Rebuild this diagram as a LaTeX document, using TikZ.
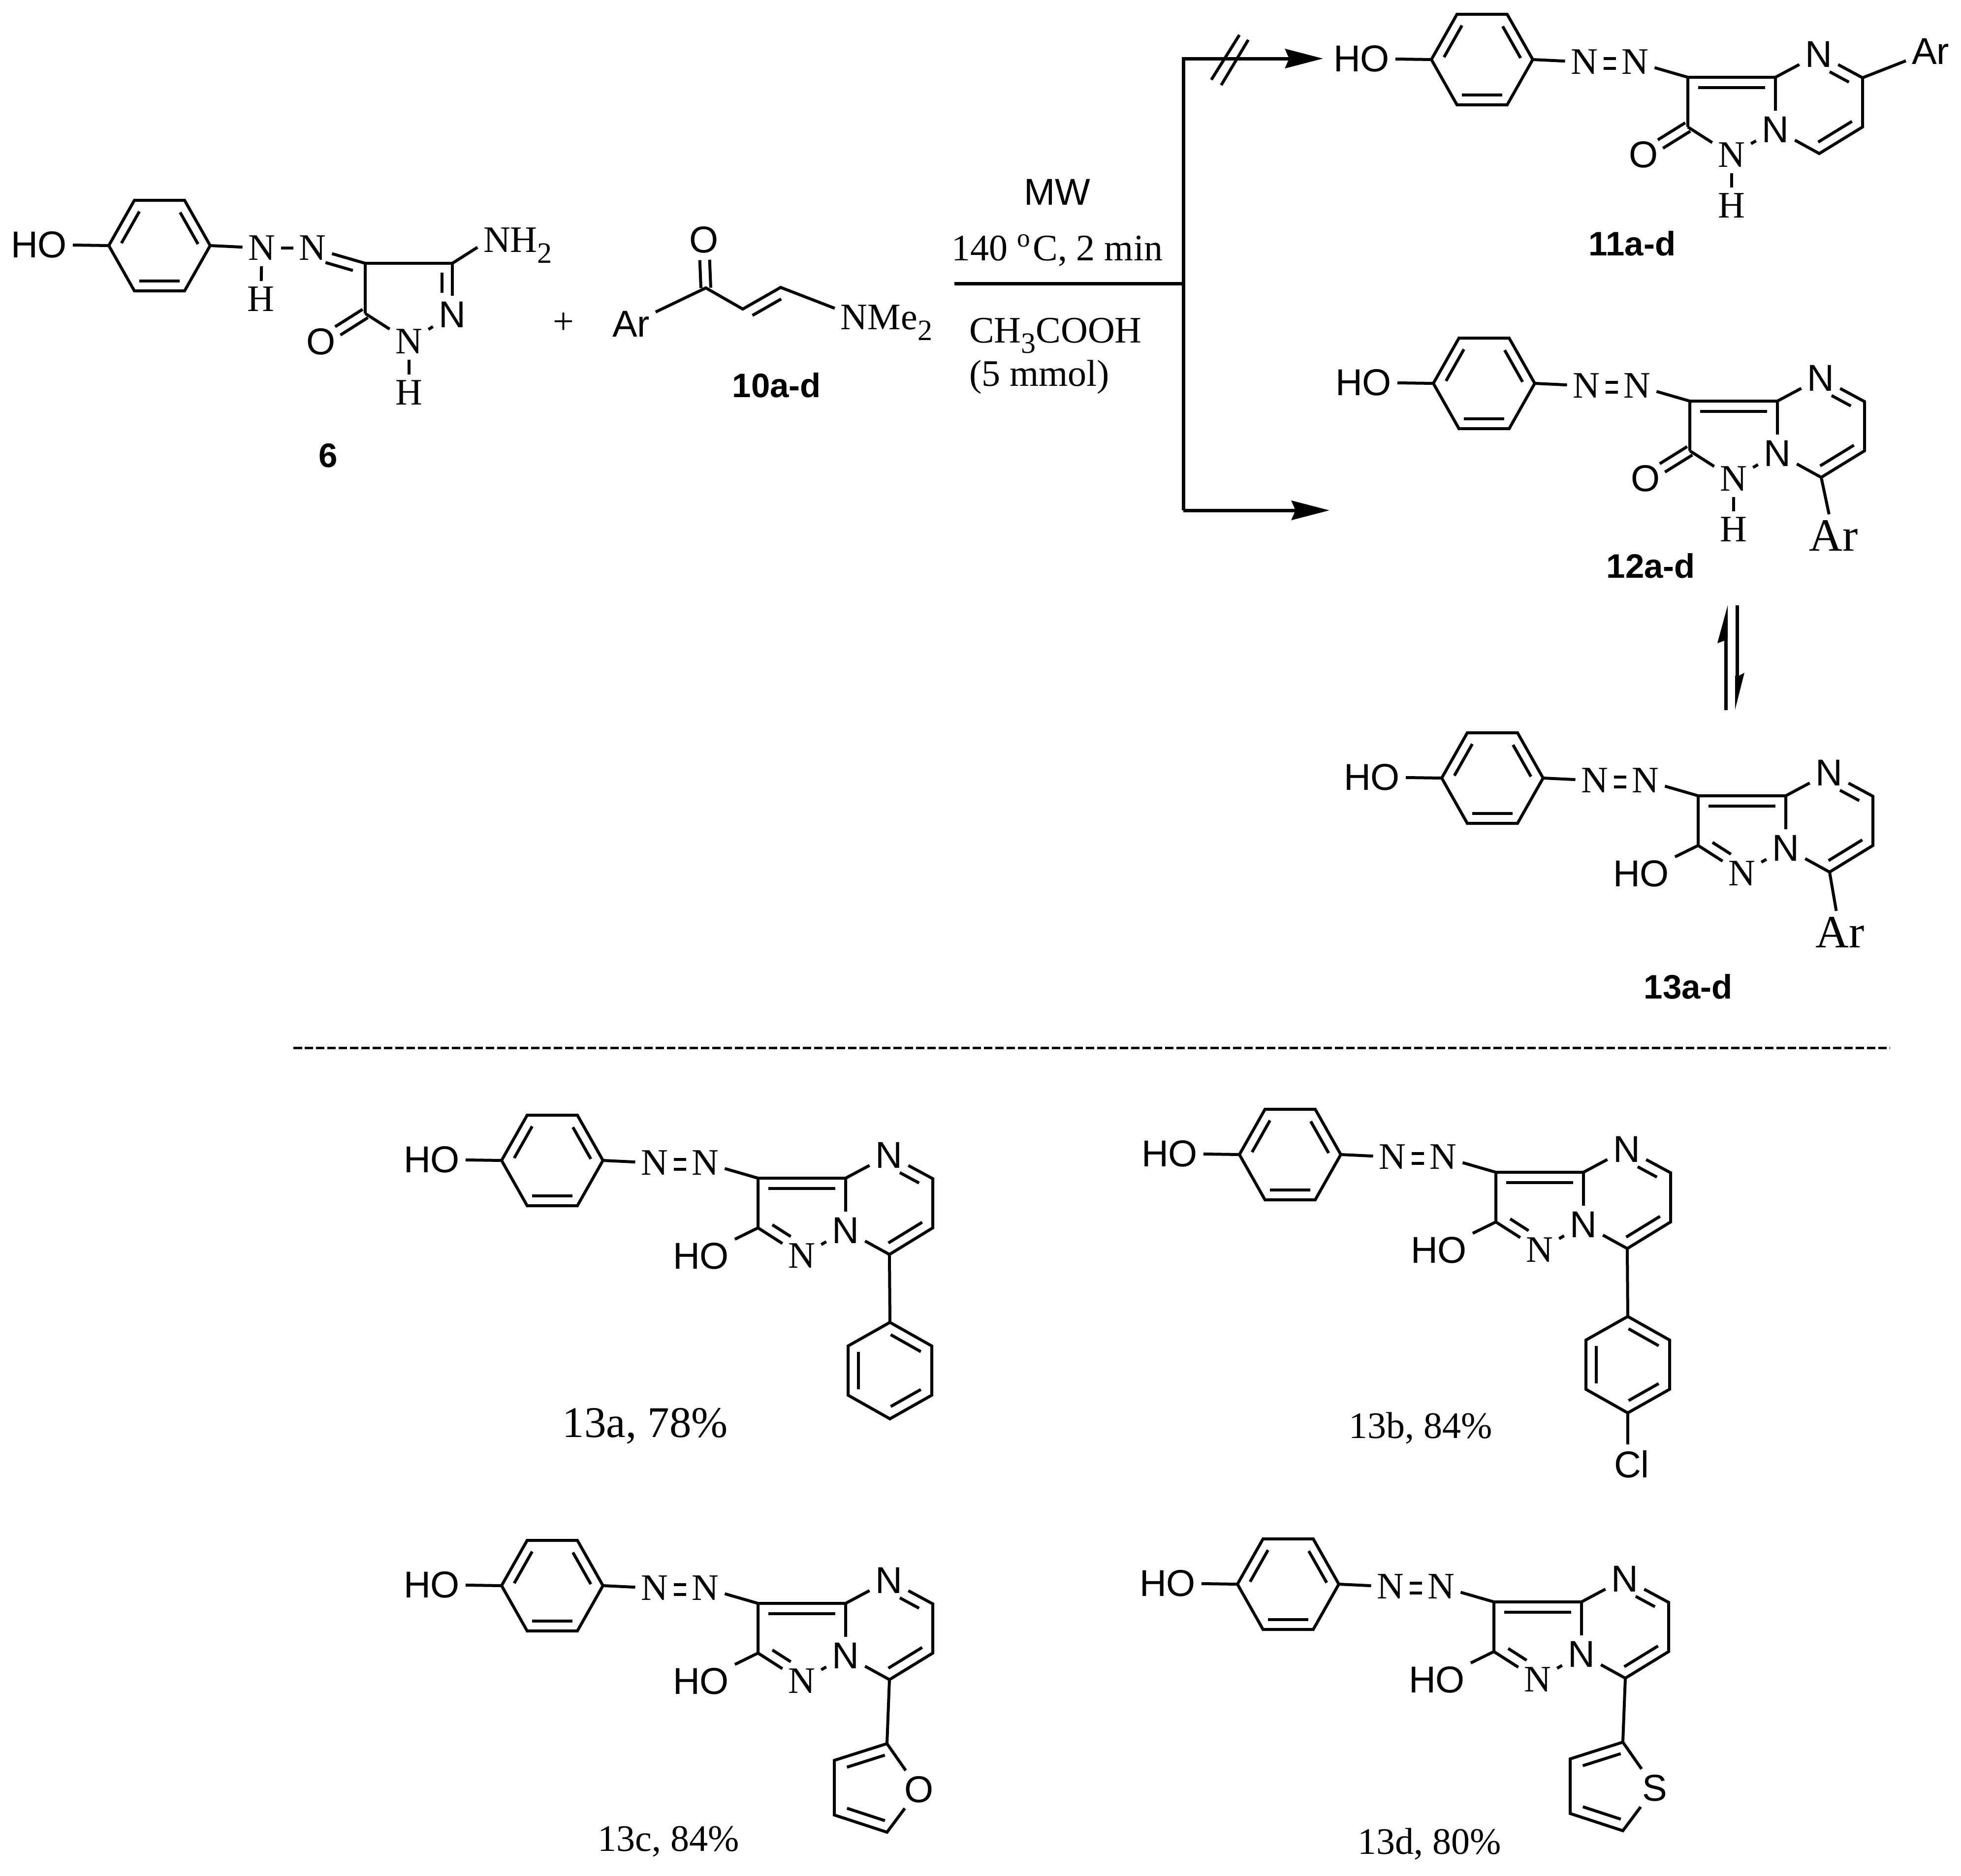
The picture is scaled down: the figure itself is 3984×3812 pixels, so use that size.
\documentclass[tikz,border=0pt]{standalone}
\usepackage{fontspec}
\setmainfont{Liberation Serif}
\setsansfont{Liberation Sans}
\usetikzlibrary{calc,arrows.meta}
\newcommand{\afont}{\fontsize{7.6}{9}\selectfont}
\newcommand{\sbs}[1]{\raisebox{-.28em}{\fontsize{6}{7}\selectfont #1}}
\tikzset{
  bond/.style={line width=.6pt},
  rxn/.style={line width=.7pt},
  atomr/.style={inner sep=1pt,text depth=0pt,font=\afont\rmfamily},
  atoms/.style={inner sep=1pt,text depth=0pt,font=\afont\sffamily},
  arbig/.style={inner sep=1pt,text depth=0pt,font=\fontsize{9.4}{11}\selectfont\rmfamily},
  cmpd/.style={inner sep=0pt,font=\fontsize{6.9}{8}\selectfont\sffamily\bfseries},
  capt/.style={inner sep=0pt,font=\afont\rmfamily},
  head/.style={-{Stealth[length=7.7pt,width=3.9pt,inset=.8pt]}},
}
% inner line of a double bond: left of #1->#2, offset #3, trimmed by #4 and #5
\newcommand{\dbl}[5]{\draw[bond] ($(#1)!#4!(#2)!#3!90:(#2)$) -- ($(#2)!#5!(#1)!-#3!90:(#1)$);}
% phenol ring with OH and the two azo nitrogens
\newcommand{\phenolring}{%
  \coordinate (bl) at (-521,-36);
  \coordinate (tl) at (-469,-128);
  \coordinate (tr) at (-367,-128);
  \coordinate (br) at (-315,-36);
  \coordinate (dr) at (-367,56);
  \coordinate (dl) at (-469,56);
  \node[atoms] (ho) at (-663,-38) {HO};
  \node[atomr] (nl) at (-210,-31) {N};
  \node[atomr] (nr) at (-107,-31) {N};
  \draw[bond] (bl)--(tl)--(tr)--(br)--(dr)--(dl)--cycle;
  \dbl{tl}{bl}{2pt}{.14}{.16}
  \dbl{br}{tr}{2pt}{.14}{.16}
  \dbl{dl}{dr}{2pt}{.1}{.1}
  \draw[bond] (ho)--(bl);
  \draw[bond] (br)--(nl);
}
% azo group and fused bicycle
\newcommand{\bicyc}{%
  \phenolring
  \draw[bond] ([yshift=.7pt]nl.east)--([yshift=.7pt]nr.west);
  \draw[bond] ([yshift=-1.3pt]nl.east)--([yshift=-1.3pt]nr.west);
  \coordinate (c3) at (0,0);
  \coordinate (c3a) at (178,0);
  \coordinate (c2) at (0,101);
  \coordinate (c5) at (355,1);
  \coordinate (c6) at (355,101);
  \coordinate (c7) at (267,155);
  \node[atoms] (n4) at (266,-47) {N};
  \node[atoms] (n7a) at (178,106) {N};
  \node[atomr] (n1) at (89,158) {N};
  \draw[bond] (nr)--(c3);
  \draw[bond] (c2)--(c3)--(c3a)--(n4);
  \draw[bond] (n4)--(c5)--(c6)--(c7)--(n7a)--(c3a);
  \draw[bond] (n7a)--(n1);
  \draw[bond] (c2)--(n1);
  \dbl{c3a}{c3}{2.1pt}{.12}{.12}
  \dbl{c5}{n4}{2.1pt}{.2}{.36}
  \dbl{c7}{c6}{2.1pt}{.1}{.12}
}
\newcommand{\enolend}{%
  \node[atoms] (oh) at (-116,158) {HO};
  \draw[bond] (c2)--(oh);
  \dbl{c2}{n1}{2.1pt}{.2}{.38}
}
\newcommand{\ketoend}{%
  \node[atoms] (oo) at (-90,157) {O};
  \node[atomr] (hh) at (89,261) {H};
  \dbl{c2}{oo}{1pt}{0}{.38}
  \dbl{c2}{oo}{-1pt}{0}{.38}
  \draw[bond] (n1)--(hh);
}
\newcommand{\phenylend}{%
  \coordinate (p1) at (268,293);
  \coordinate (p2) at (353,341);
  \coordinate (p3) at (353,441);
  \coordinate (p4) at (268,489);
  \coordinate (p5) at (183,441);
  \coordinate (p6) at (183,341);
  \draw[bond] (c7)--(p1);
  \draw[bond] (p1)--(p2)--(p3)--(p4)--(p5)--(p6)--cycle;
  \dbl{p2}{p1}{2.1pt}{.14}{.14}
  \dbl{p4}{p3}{2.1pt}{.14}{.14}
  \dbl{p6}{p5}{2.1pt}{.12}{.12}
}
% five-membered heteroaryl; #1 = heteroatom
\newcommand{\hetend}[1]{%
  \coordinate (f1) at (262,285);
  \coordinate (f2) at (155,319);
  \coordinate (f3) at (155,430);
  \coordinate (f4) at (262,465);
  \node[atoms] (fx) at (327,378) {#1};
  \draw[bond] (c7)--(f1);
  \draw[bond] (fx)--(f1)--(f2)--(f3)--(f4)--(fx);
  \dbl{f1}{f2}{2.1pt}{.1}{.18}
  \dbl{f3}{f4}{2.1pt}{.18}{.1}
}
\begin{document}
\begin{tikzpicture}[x=.1pt,y=-.1pt]
\useasboundingbox (0,0) rectangle (3984,3812);
\fill[white] (0,0) rectangle (3984,3812);

% compound 6
\begin{scope}[shift={(742,535)},name prefix=six-]
  \phenolring
  \coordinate (c4) at (0,0);
  \coordinate (c3) at (177,0);
  \coordinate (c5) at (0,102);
  \node[atomr] (h1) at (-212,73) {H};
  \node[atomr] (n1) at (89,159) {N};
  \node[atoms] (n2) at (177,104) {N};
  \node[atoms] (oo) at (-90,159) {O};
  \node[atomr] (h2) at (89,263) {H};
  \node[atomr] (nh) at (310,-47) {NH\sbs{2}};
  \draw[bond] (nl)--(nr);
  \draw[bond] (nl)--(h1);
  \draw[bond] (nr)--(c4);
  \draw[bond] (c5)--(c4)--(c3)--(n2);
  \draw[bond] (c5)--(n1);
  \draw[bond] (n1)--(n2);
  \draw[bond] (n1)--(h2);
  \draw[bond] (c3)--(nh.190);
  \dbl{c4}{nr}{2.1pt}{.18}{.3}
  \dbl{n2}{c3}{2.1pt}{.42}{.18}
  \dbl{c5}{oo}{1pt}{0}{.38}
  \dbl{c5}{oo}{-1pt}{0}{.38}
\end{scope}
\node[cmpd] (l6) at (667,926) {6};
\node[atomr] (plus) at (1145,657) {+};

% enaminone 10
\node[atoms] (ar) at (1282,658) {Ar};
\coordinate (ea) at (1434,585);
\coordinate (eb) at (1509,628);
\coordinate (ec) at (1586,584);
\node[atoms] (eo) at (1430,487) {O};
\node[atomr] (nme) at (1801,645) {NMe\sbs{2}};
\draw[bond] (ar)--(ea)--(eb)--(ec)--(nme.170);
\dbl{ea}{eo}{1pt}{0}{.42}
\dbl{ea}{eo}{-1pt}{0}{.42}
\dbl{ec}{eb}{2.1pt}{.12}{.12}
\node[cmpd] (l10) at (1578,783) {10a-d};

% reaction conditions and arrows
\node[atoms] (mw) at (2148,390) {MW};
\node[atomr] (cond) at (2148,503) {140 \textsuperscript{o}C, 2 min};
\node[atomr,anchor=west] (acid) at (1957,671) {CH\sbs{3}COOH};
\node[atomr,anchor=west] (mmol) at (1957,758) {(5 mmol)};
\coordinate (rs) at (1939,576);
\coordinate (rj) at (2404,576);
\coordinate (rt) at (2404,119);
\coordinate (rb) at (2404,1037);
\coordinate (tt) at (2688,119);
\coordinate (tb) at (2701,1037);
\coordinate (sa) at (2461,162);
\coordinate (sb) at (2518,71);
\coordinate (sc) at (2481,173);
\coordinate (sd) at (2536,81);
\draw[rxn] (rs)--(rj);
\draw[rxn] ([yshift=.35pt]rt)--(rb);
\draw[rxn,head] (rt)--(tt);
\draw[rxn,head] (rb)--(tb);
\draw[bond] (sa)--(sb);
\draw[bond] (sc)--(sd);

% compound 11
\begin{scope}[shift={(3429,157)},name prefix=e-]
  \bicyc
  \ketoend
  \node[atoms] (ar) at (493,-53) {Ar};
  \draw[bond] (c5)--(ar);
\end{scope}
\node[cmpd] (l11) at (3316,495) {11a-d};

% compound 12
\begin{scope}[shift={(3433,815)},name prefix=t-]
  \bicyc
  \ketoend
  \node[arbig] (ar) at (292,273) {Ar};
  \draw[bond] (c7)--(ar);
\end{scope}
\node[cmpd] (l12) at (3354,1150) {12a-d};

% equilibrium arrows
\coordinate (ea1) at (3506.5,1443);
\coordinate (ea2) at (3506.5,1302);
\coordinate (eb1) at (3529.5,1230);
\coordinate (eb2) at (3529.5,1373);
\draw[rxn] (ea1)--(ea2);
\draw[rxn] (eb1)--(eb2);
\fill (3510,1230)--(3489,1307)--(3503,1302)--(3510,1302)--cycle;
\fill (3525,1442)--(3544,1367)--(3533,1373)--(3525,1373)--cycle;

% compound 13 general
\begin{scope}[shift={(3450,1617)},name prefix=g-]
  \bicyc
  \enolend
  \node[arbig] (ar) at (288,277) {Ar};
  \draw[bond] (c7)--(ar);
\end{scope}
\node[cmpd] (l13) at (3430,2005) {13a-d};

% separator
\coordinate (da) at (596,2129);
\coordinate (db) at (3840,2129);
\draw[line width=.5pt,dash pattern=on 1.75pt off .55pt] (da)--(db);

% 13a
\begin{scope}[shift={(1540,2394)},name prefix=a-]
  \bicyc
  \enolend
  \phenylend
\end{scope}
\node[capt,font=\fontsize{8.9}{10}\selectfont\rmfamily] (la) at (1311,2898) {13a, 78\%};

% 13b
\begin{scope}[shift={(3039,2382)},name prefix=b-]
  \bicyc
  \enolend
  \phenylend
  \node[atoms] (cl) at (276,593) {Cl};
  \draw[bond] (p4)--(p4 |- cl.north);
\end{scope}
\node[capt] (lb) at (2886,2902) {13b, 84\%};

% 13c
\begin{scope}[shift={(1540,3258)},name prefix=c-]
  \bicyc
  \enolend
  \hetend{O}
\end{scope}
\node[capt] (lc) at (1358,3742) {13c, 84\%};

% 13d
\begin{scope}[shift={(3035,3255)},name prefix=d-]
  \bicyc
  \enolend
  \hetend{S}
\end{scope}
\node[capt] (ld) at (2904,3747) {13d, 80\%};
\end{tikzpicture}
\end{document}
